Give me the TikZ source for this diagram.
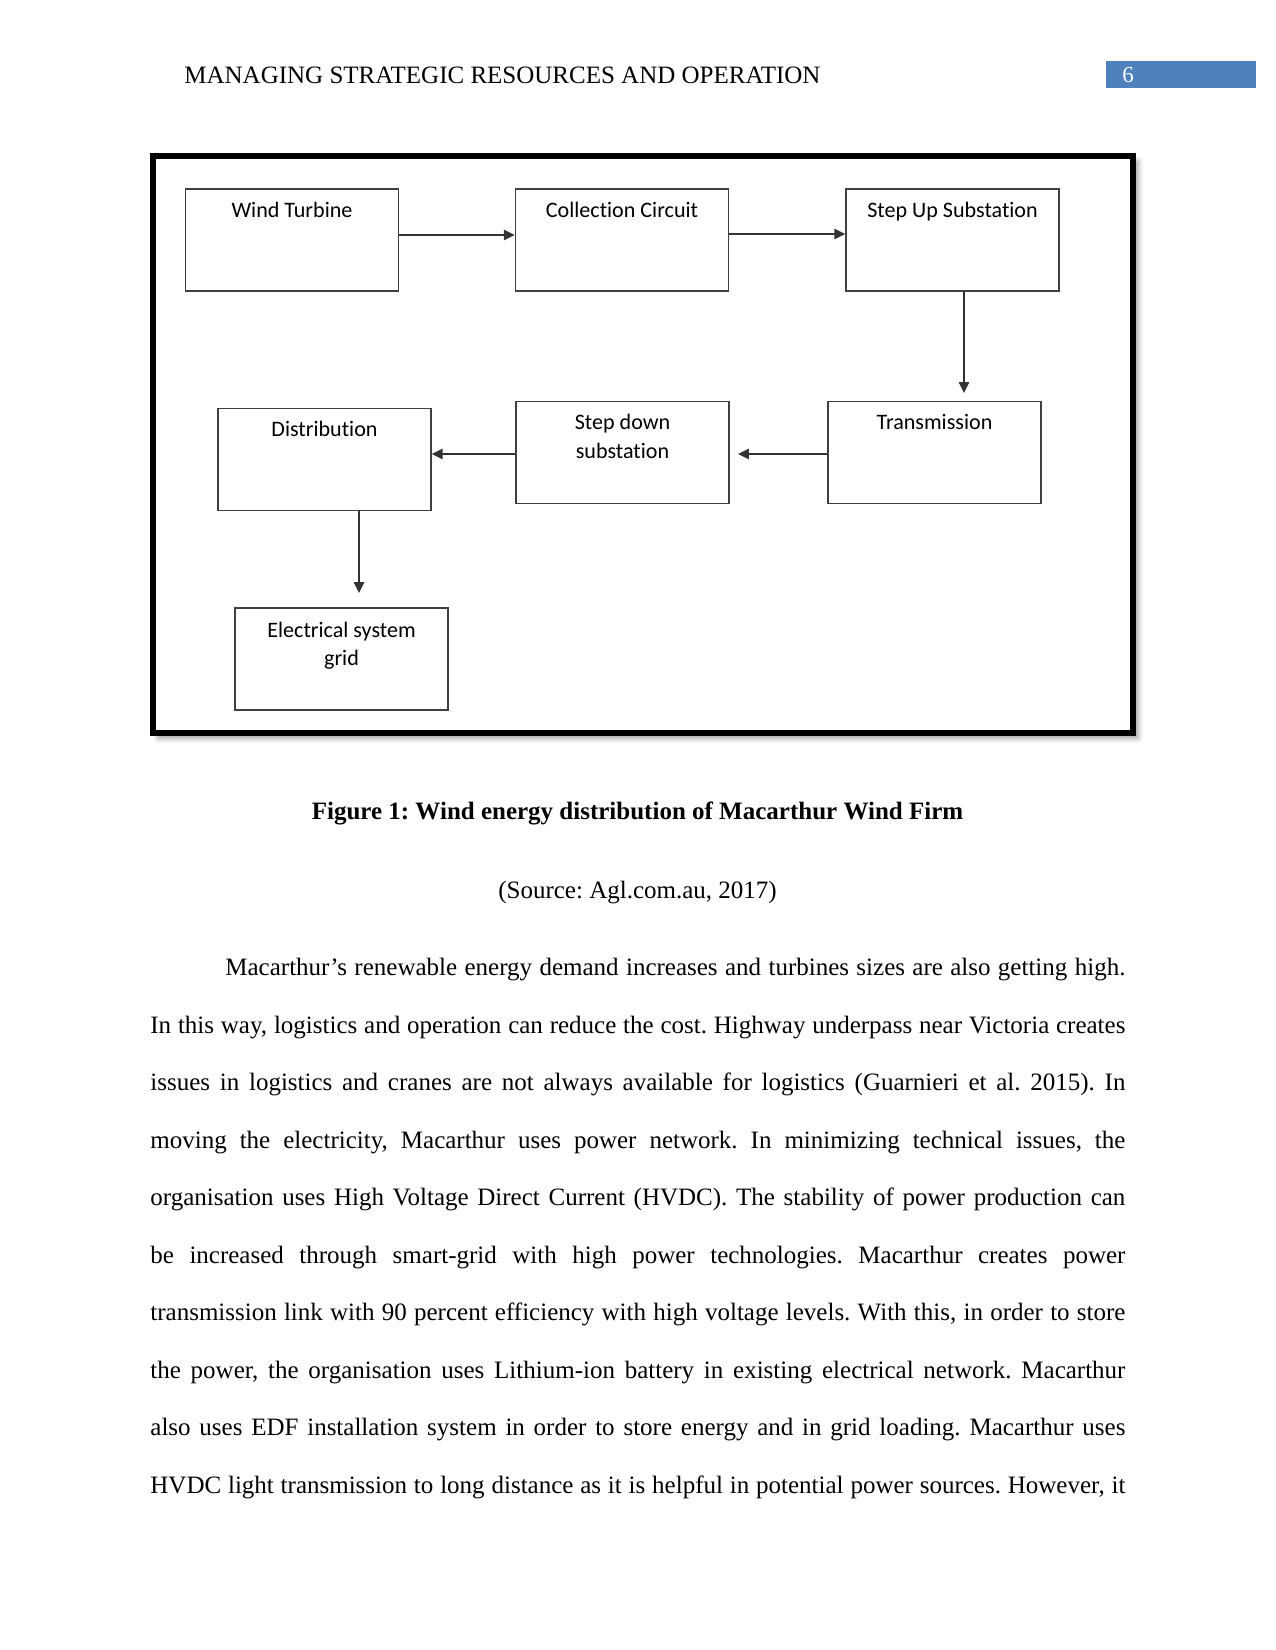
\documentclass[tikz,border=0pt]{standalone}
\usepackage{fontspec}
\setmainfont{Liberation Serif}
\newfontfamily\carlfont[Ligatures=CommonOff]{Carlito}
\usetikzlibrary{arrows.meta,shadows.blur,calc}
\newlength\pxu \setlength\pxu{0.48pt}
\definecolor{hdrblue}{HTML}{4F81BD}
\frenchspacing
\begin{document}
\begin{tikzpicture}[x=0.48pt,y=-0.48pt,
  box/.style={draw=black!75, line width=0.7pt, minimum width=213\pxu, minimum height=102\pxu, inner sep=0pt},
  lbl/.style={font=\carlfont\fontsize{10.6}{13.6}\selectfont, text=black, anchor=base, inner sep=0pt, align=center},
  arr/.style={draw=black!80, line width=0.55pt, -{Triangle[length=5.2pt,width=5pt]}},
  body/.style={font=\fontsize{12}{14}\selectfont, anchor=base west, inner sep=0pt},
]
\useasboundingbox (0,0) rectangle (1275,1650);

% header
\node[body] (hdr) at (184,84) {MANAGING STRATEGIC RESOURCES AND OPERATION};
\node[fill=hdrblue, minimum width=150\pxu, minimum height=27\pxu, inner sep=0pt] (pgbox) at (1181,74.5) {};
\node[body, text=white, font=\fontsize{11}{13}\selectfont] (pgnum) at (1122,83) {6};

% frame
\path[draw=black, line width=2.88pt, fill=white,
  blur shadow={shadow xshift=2.5pt, shadow yshift=-2.5pt, shadow blur radius=2.5pt, shadow opacity=40}]
  (153,156) rectangle (1133,733);

% boxes
\node[box] (wt) at (292,240) {};
\node[box] (cc) at (622,240) {};
\node[box] (su) at (952.5,240) {};
\node[box] (tr) at (934.5,452.5) {};
\node[box] (sd) at (622.5,452.5) {};
\node[box] (di) at (324.5,459.5) {};
\node[box] (eg) at (341.5,659) {};

% labels (base anchor of a two-line node is its last line)
\node[lbl] (wtl) at ($(wt.north)+(0,29)$) {Wind Turbine};
\node[lbl] (ccl) at ($(cc.north)+(0,29)$) {Collection Circuit};
\node[lbl] (sul) at ($(su.north)+(0,29)$) {Step Up Substation};
\node[lbl] (trl) at ($(tr.north)+(0,29)$) {Transmission};
\node[lbl] (sdl) at ($(sd.north)+(0,57.4)$) {Step down\\substation};
\node[lbl] (dil) at ($(di.north)+(0,29)$) {Distribution};
\node[lbl] (egl) at ($(eg.north)+(0,58.4)$) {Electrical system\\grid};

% connectors
\coordinate (a3e) at (964,393);
\coordinate (a4e) at (738,454);
\coordinate (a6e) at (359,593);
\draw[arr] ($(wt.east)+(0,-5)$) -- ($(cc.west)+(0,-5)$);
\draw[arr] ($(cc.east)+(0,-6)$) -- ($(su.west)+(0,-6)$);
\draw[arr] (su.south -| a3e) -- (a3e);
\draw[arr] (tr.west |- a4e) -- (a4e);
\draw[arr] (sd.west |- a4e) -- (di.east |- a4e);
\draw[arr] (di.south -| a6e) -- (a6e);

% caption
\node[font=\bfseries\fontsize{12}{14}\selectfont, anchor=base, inner sep=0pt] (cap) at (637.5,819.5) {Figure 1: Wind energy distribution of Macarthur Wind Firm};
\node[font=\fontsize{12}{14}\selectfont, anchor=base, inner sep=0pt] (src) at (637.5,898) {(Source: Agl.com.au, 2017)};

% body
\node[body] (b1) at (225,975.5) {\hbox to 900\pxu{Macarthur’s renewable energy demand increases and turbines sizes are also getting high.}};
\node[body] (b2) at (150,1033) {\hbox to 975\pxu{In this way, logistics and operation can reduce the cost. Highway underpass near Victoria creates}};
\node[body] (b3) at (150,1090.5) {\hbox to 975\pxu{issues in logistics and cranes are not always available for logistics (Guarnieri et al. 2015). In}};
\node[body] (b4) at (150,1148) {\hbox to 975\pxu{moving the electricity, Macarthur uses power network. In minimizing technical issues, the}};
\node[body] (b5) at (150,1205.5) {\hbox to 975\pxu{organisation uses High Voltage Direct Current (HVDC). The stability of power production can}};
\node[body] (b6) at (150,1263) {\hbox to 975\pxu{be increased through smart-grid with high power technologies. Macarthur creates power}};
\node[body] (b7) at (150,1320.5) {\hbox to 975\pxu{transmission link with 90 percent efficiency with high voltage levels. With this, in order to store}};
\node[body] (b8) at (150,1378) {\hbox to 975\pxu{the power, the organisation uses Lithium-ion battery in existing electrical network. Macarthur}};
\node[body] (b9) at (150,1435.5) {\hbox to 975\pxu{also uses EDF installation system in order to store energy and in grid loading. Macarthur uses}};
\node[body] (b10) at (150,1493) {\hbox to 975\pxu{HVDC light transmission to long distance as it is helpful in potential power sources. However, it}};
\end{tikzpicture}
\end{document}
